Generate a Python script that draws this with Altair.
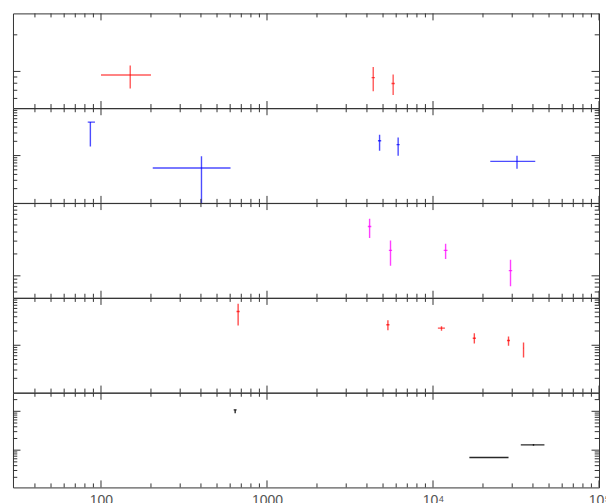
import math
import altair as alt
import pandas as pd

# ---------------- data ----------------
# panel 1 (red)
p1_x   = [150, 4365, 5754]
p1_xlo = [100, 4265, 5620]
p1_xhi = [200, 4467, 5890]
p1_y   = [0.934, 0.889, 0.795]
p1_ylo = [0.723, 0.687, 0.640]
p1_yhi = [1.12, 1.086, 0.942]

# panel 2 (blue)
p2_x   = [86.3, 403, 4766, 6166, 32060]
p2_xlo = [83.2, 205, 4660, 6030, 22130]
p2_xhi = [92.0, 603, 4875, 6300, 41300]
p2_y   = [5.09, 0.545, 2.06, 1.70, 0.755]
p2_ylo = [1.56, 0.08, 1.27, 0.995, 0.529]
p2_yhi = [5.09, 0.962, 2.76, 2.42, 0.995]

# panel 3 (magenta)
p3_x   = [4150, 5546, 11910, 29300]
p3_xlo = [4050, 5420, 11600, 28600]
p3_xhi = [4250, 5670, 12230, 30000]
p3_y   = [4.77, 2.24, 2.24, 1.18]
p3_ylo = [3.30, 1.38, 1.70, 0.718]
p3_yhi = [6.09, 3.07, 2.77, 1.67]

# panel 4 (red)
p4_x   = [670, 5350, 11250, 17740, 28500, 35100]
p4_xlo = [655, 5230, 10700, 17350, 27900, 35000]
p4_xhi = [685, 5470, 11800, 18130, 29100, 35200]
p4_y   = [5.16, 2.71, 2.30, 1.41, 1.26, 0.869]
p4_ylo = [2.62, 2.08, 2.02, 1.09, 0.976, 0.553]
p4_yhi = [7.51, 3.39, 2.53, 1.80, 1.53, 1.15]

# panel 5 (black)
p5_x   = [643, 22000, 40300]
p5_xlo = [630, 16560, 33800]
p5_xhi = [656, 28500, 46900]
p5_y   = [10.9, 0.648, 1.37]
p5_ylo = [8.9, 0.648, 1.29]
p5_yhi = [10.9, 0.648, 1.45]

# axis ranges and ticks
x_domain = [29.5, 100000]
x_major = [100, 1000, 10000, 100000]
x_minor = [40, 50, 60, 70, 80, 90,
           200, 300, 400, 500, 600, 700, 800, 900,
           2000, 3000, 4000, 5000, 6000, 7000, 8000, 9000,
           20000, 30000, 40000, 50000, 60000, 70000, 80000, 90000]

y_domains = [[0.5, 3], [0.1, 10], [0.5, 10], [0.1, 10], [0.11, 30]]
mantissas = [1, 2, 3, 4, 5, 6, 7, 8, 9]
exponents = [-2, -1, 0, 1, 2]

colors = ["#ff0000", "#0000ff", "#ff00ff", "#ff0000", "#111111"]
opacities = [0.65, 0.7, 0.75, 0.7, 0.9]

series = [
    (p1_x, p1_xlo, p1_xhi, p1_y, p1_ylo, p1_yhi),
    (p2_x, p2_xlo, p2_xhi, p2_y, p2_ylo, p2_yhi),
    (p3_x, p3_xlo, p3_xhi, p3_y, p3_ylo, p3_yhi),
    (p4_x, p4_xlo, p4_xhi, p4_y, p4_ylo, p4_yhi),
    (p5_x, p5_xlo, p5_xhi, p5_y, p5_ylo, p5_yhi),
]

W = 587
H = 94.8
FRAME = "#333333"
XMAJ, XMIN = 7, 4
YMAJ, YMIN = 7.5, 4.3

xscale = alt.Scale(type="log", domain=x_domain, nice=False)

label_axis = alt.Axis(values=x_major, ticks=False, domain=False, grid=False,
                      labelExpr="datum.value < 500 ? '100' : datum.value < 5000 ? '1000' : datum.value < 50000 ? '10⁴' : '10⁵'",
                      labelFontSize=14, labelColor="#555555", labelFont="Liberation Sans",
                      labelPadding=6, labelFlush=False, labelOverlap=False, title=None,
                      orient="bottom")


def panel(i):
    xs, xlo, xhi, ys, ylo, yhi = series[i]
    df = pd.DataFrame({"x": xs, "xlo": xlo, "xhi": xhi,
                       "y": ys, "ylo": ylo, "yhi": yhi})
    lo, hi = y_domains[i]
    yscale = alt.Scale(type="log", domain=[lo, hi], nice=False)
    last = i == len(series) - 1
    xaxis = label_axis if last else None

    xerr = alt.Chart(df).mark_rule(color=colors[i], opacity=opacities[i],
                                   strokeWidth=1.4, clip=True).encode(
        x=alt.X("xlo:Q", scale=xscale, axis=xaxis),
        x2="xhi:Q",
        y=alt.Y("y:Q", scale=yscale, axis=None),
    )
    yerr = alt.Chart(df).mark_rule(color=colors[i], opacity=opacities[i],
                                   strokeWidth=1.4, clip=True).encode(
        x=alt.X("x:Q", scale=xscale, axis=xaxis),
        y=alt.Y("ylo:Q", scale=yscale, axis=None),
        y2="yhi:Q",
    )

    xmaj = pd.DataFrame({"v": x_major})
    xmin = pd.DataFrame({"v": x_minor})
    layers = [xerr, yerr]
    for d, L in ((xmaj, XMAJ), (xmin, XMIN)):
        for y0, y1 in ((0, L), (H - L, H)):
            layers.append(alt.Chart(d).mark_rule(color=FRAME, strokeWidth=1).encode(
                x=alt.X("v:Q", scale=xscale, axis=xaxis),
                y=alt.value(y0), y2=alt.value(y1)))

    vals = [m * 10.0 ** e for e in exponents for m in mantissas]
    vals = [v for v in vals if lo * 1.001 <= v <= hi * 0.999]
    majors = [v for v in vals if abs(math.log10(v) - round(math.log10(v))) < 1e-9]
    minors = [v for v in vals if v not in majors]
    for lst, L in ((majors, YMAJ), (minors, YMIN)):
        if not lst:
            continue
        d = pd.DataFrame({"v": lst})
        for x0, x1 in ((0, L), (W - L, W)):
            layers.append(alt.Chart(d).mark_rule(color=FRAME, strokeWidth=1).encode(
                y=alt.Y("v:Q", scale=yscale, axis=None),
                x=alt.value(x0), x2=alt.value(x1)))

    return alt.layer(*layers).properties(width=W, height=H)


chart = alt.vconcat(*[panel(i) for i in range(5)], spacing=0, bounds="flush").properties(
    padding={"left": 12, "top": 12, "right": -5, "bottom": 0},
    background="white",
).configure_view(stroke=FRAME, strokeWidth=1).configure_concat(spacing=0)

chart.save("out.html", embed_options={"renderer": "svg", "actions": False})
